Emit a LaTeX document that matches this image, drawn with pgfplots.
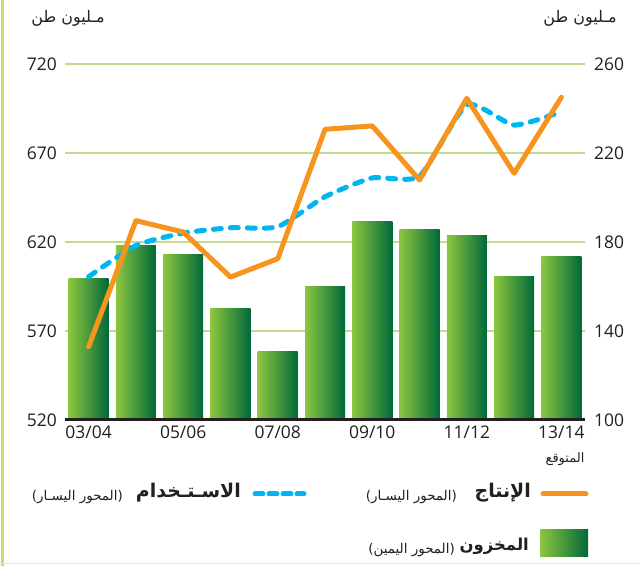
\documentclass[border=0pt]{standalone}
\usepackage{pgfplots}
\pgfplotsset{compat=1.18}
\usepackage{fontspec}
\setmainfont{Open Sans}
\newfontfamily\arabicfont[Script=Arabic]{DejaVu Sans}
\TeXXeTstate=1
\definecolor{gridg}{HTML}{BFDC8F}
\definecolor{borderg}{HTML}{C3DE6E}
\definecolor{prodc}{HTML}{F7941D}
\definecolor{usec}{HTML}{00B6F0}
\definecolor{barl}{HTML}{8DC63F}
\definecolor{bard}{HTML}{00693A}
\definecolor{txt}{HTML}{231F20}
\pgfplotsset{stockbar/.style={ybar, bar width=40bp, bar shift=0pt, draw=none, left color=barl, right color=bard}}
\begin{document}
\begin{tikzpicture}[x=1bp,y=1bp]
\path[use as bounding box] (0,0) rectangle (640,566);
\fill[white] (0,0) rectangle (640,566);
\draw[borderg, line width=3bp] (2.5,0) -- (2.5,566);
\draw[borderg!50, line width=1.5bp] (0,2.5) -- (640,2.5);

% right axis: stocks (bars)
\begin{axis}[at={(65bp,146bp)}, anchor=south west, scale only axis,
  width=520bp, height=356bp,
  xmin=-0.5, xmax=10.5, ymin=100, ymax=260,
  ytick={100,140,180,220,260},
  yticklabel pos=right,
  hide x axis,
  axis y line*=right,
  y axis line style={draw=none},
  major tick length=0,
  ymajorgrids, grid style={gridg, line width=1.2bp},
  /pgf/number format/assume math mode=true,
  yticklabel style={font=\fontsize{17.5}{17.5}\selectfont, text=txt, anchor=west, inner sep=0pt, xshift=9bp},
  clip=false]
\addplot[stockbar] coordinates {(0,163.8)};
\addplot[stockbar] coordinates {(1,178.2)};
\addplot[stockbar] coordinates {(2,174.2)};
\addplot[stockbar] coordinates {(3,150.3)};
\addplot[stockbar] coordinates {(4,131)};
\addplot[stockbar] coordinates {(5,160.2)};
\addplot[stockbar] coordinates {(6,189)};
\addplot[stockbar] coordinates {(7,185.8)};
\addplot[stockbar] coordinates {(8,183.1)};
\addplot[stockbar] coordinates {(9,164.3)};
\addplot[stockbar] coordinates {(10,173.3)};
\end{axis}

% left axis: production and use (lines)
\begin{axis}[at={(65bp,146bp)}, anchor=south west, scale only axis,
  width=520bp, height=356bp,
  xmin=-0.5, xmax=10.5, ymin=520, ymax=720,
  ytick={520,570,620,670,720},
  axis lines*=left,
  y axis line style={draw=none},
  x axis line style={line width=3bp, txt},
  major tick length=0,
  xtick={0,2,4,6,8,10},
  xticklabels={03/04,05/06,07/08,09/10,11/12,13/14},
  /pgf/number format/assume math mode=true,
  yticklabel style={font=\fontsize{17.5}{17.5}\selectfont, text=txt, anchor=east, inner sep=0pt, xshift=-8bp},
  xticklabel style={font=\fontsize{17.5}{17.5}\selectfont, text=txt, anchor=north, inner sep=0pt, yshift=-5.5bp},
  clip=false]
\addplot[usec, line width=5bp, dash pattern=on 8bp off 9bp, line cap=round, smooth, tension=0.35]
  coordinates {(0,600.5) (1,618) (2,625) (3,628) (4,628.6) (5,645.4) (6,656) (7,657) (8,697) (9,685.7) (10,693.2)};
\addplot[prodc, line width=5bp, line join=round, line cap=round]
  coordinates {(0,561.2) (1,632) (2,625.6) (3,600.3) (4,610.6) (5,683.3) (6,685.2) (7,654.8) (8,700.7) (9,658.6) (10,701.3)};
\end{axis}

% unit titles
\node[text=txt] at (68,548) {\arabicfont\fontsize{16}{16}\selectfont\beginR مـليون طن\endR};
\node[text=txt] at (580,548) {\arabicfont\fontsize{16}{16}\selectfont\beginR مـليون طن\endR};
% forecast note
\node[text=txt] at (565,107) {\arabicfont\fontsize{13}{13}\selectfont\beginR المتوقع\endR};

% legend
\draw[prodc, line width=5bp, line cap=round] (543,72) -- (586,72);
\node[text=txt, anchor=east, inner sep=0pt] at (531,73) {\arabicfont\bfseries\fontsize{19}{19}\selectfont\beginR الإنتاج\endR};
\node[text=txt, anchor=east, inner sep=0pt] at (457,69) {\arabicfont\fontsize{13.5}{13.5}\selectfont)\beginR المحور اليسـار\endR(};
\draw[usec, line width=5bp, line cap=round, dash pattern=on 8bp off 6bp] (255,72) -- (304,72);
\node[text=txt, anchor=east, inner sep=0pt] at (241,73) {\arabicfont\bfseries\fontsize{19}{19}\selectfont\beginR الاسـتـخدام\endR};
\node[text=txt, anchor=east, inner sep=0pt] at (123,69) {\arabicfont\fontsize{13.5}{13.5}\selectfont)\beginR المحور اليسـار\endR(};
\fill[left color=barl, right color=bard] (540,9) rectangle (588,36);
\node[text=txt, anchor=east, inner sep=0pt] at (529,20) {\arabicfont\bfseries\fontsize{16.5}{16.5}\selectfont\beginR المخزون\endR};
\node[text=txt, anchor=east, inner sep=0pt] at (455,16) {\arabicfont\fontsize{13.5}{13.5}\selectfont)\beginR المحور اليمين\endR(};
\end{tikzpicture}
\end{document}
